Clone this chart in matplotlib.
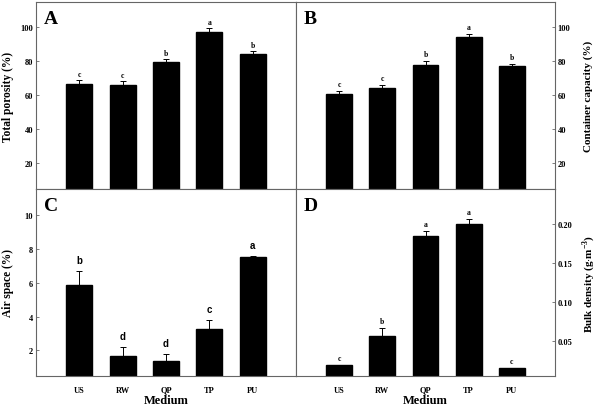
import matplotlib
matplotlib.use("Agg")
import matplotlib.pyplot as plt
from matplotlib.ticker import FormatStrFormatter

plt.rcParams['font.family'] = ['Liberation Serif', 'DejaVu Serif']
plt.rcParams['font.weight'] = 'bold'
plt.rcParams['mathtext.fontset'] = 'custom'
plt.rcParams['mathtext.rm'] = 'Liberation Serif:bold'

# data
media = ['US', 'RW', 'QP', 'TP', 'PU']

porosity = [66.3, 65.7, 79.2, 96.9, 83.9]
porosity_err = [2.3, 2.3, 1.8, 2.3, 1.8]
porosity_sig = ['c', 'c', 'b', 'a', 'b']

capacity = [60.6, 64.1, 77.8, 93.9, 76.9]
capacity_err = [1.8, 1.9, 2.4, 2.0, 1.5]
capacity_sig = ['c', 'c', 'b', 'a', 'b']

air = [5.88, 1.70, 1.37, 3.27, 7.53]
air_err = [0.80, 0.48, 0.40, 0.55, 0.03]
air_sig = ['b', 'd', 'd', 'c', 'a']

density = [0.0183, 0.0559, 0.185, 0.200, 0.0145]
density_err = [0.0, 0.0108, 0.0056, 0.0064, 0.0005]
density_sig = ['c', 'b', 'a', 'a', 'c']

W, H = 598, 406
fig = plt.figure(figsize=(W / 100, H / 100), dpi=100)

def box(x0, y0, x1, y1):
    return [x0 / W, 1 - y1 / H, (x1 - x0) / W, (y1 - y0) / H]

axA = fig.add_axes(box(36, 3, 296, 190))
axB = fig.add_axes(box(296, 3, 555, 190))
axC = fig.add_axes(box(36, 190, 296, 377))
axD = fig.add_axes(box(296, 190, 555, 377))

pos = [1, 2, 3, 4, 5]

def panel(ax, vals, errs, sig, ylim, ticks, fmt, ylabel, letter, right, bottom, sigsize, sigfam, sigoff, labx):
    ax.bar(pos, vals, width=0.6, color='black', edgecolor='black',
           yerr=[[0] * len(errs), errs], capsize=2.5,
           error_kw=dict(elinewidth=0.7, capthick=0.7, ecolor='black'))
    for x, v, e, s in zip(pos, vals, errs, sig):
        ax.text(x, v + e + sigoff, s, ha='center', va='bottom',
                fontsize=sigsize, fontweight='bold', family=sigfam)
    ax.set_xlim(0, 6)
    ax.set_ylim(*ylim)
    ax.set_yticks(ticks)
    ax.yaxis.set_major_formatter(FormatStrFormatter(fmt))
    for sp in ax.spines.values():
        sp.set_color('#666666')
        sp.set_linewidth(0.8)
    ax.tick_params(axis='y', direction='in', length=2, width=0.6, labelsize=6, pad=2,
                   color='#666666', left=not right, right=right,
                   labelleft=not right, labelright=right)
    if bottom:
        ax.set_xticks(pos)
        ax.set_xticklabels(media)
        ax.tick_params(axis='x', length=0, labelsize=6, pad=7)
        ax.set_xlabel('Medium', fontsize=9, fontweight='bold')
        ax.xaxis.set_label_coords(0.5, -0.095)
    else:
        ax.set_xticks([])
    if right:
        ax.yaxis.set_label_position('right')
        ax.set_ylabel(ylabel, fontsize=8, fontweight='bold')
    else:
        ax.set_ylabel(ylabel, fontsize=8.3, fontweight='bold')
    ax.yaxis.set_label_coords(labx, 0.5)
    ax.text(0.03, 0.955, letter, transform=ax.transAxes, ha='left', va='top',
            fontsize=14, fontweight='bold')

panel(axA, porosity, porosity_err, porosity_sig, (4.7, 114.7), [20, 40, 60, 80, 100], '%d',
      'Total porosity (%)', 'A', False, False, 5.5, 'Liberation Serif', 1.5, -0.085)
panel(axB, capacity, capacity_err, capacity_sig, (4.7, 114.7), [20, 40, 60, 80, 100], '%d',
      'Container capacity (%)', 'B', True, False, 5.5, 'Liberation Serif', 1.5, 1.108)
panel(axC, air, air_err, air_sig, (0.49, 11.53), [2, 4, 6, 8, 10], '%d',
      'Air space (%)', 'C', False, True, 7, 'Liberation Sans', 0.35, -0.085)
panel(axD, density, density_err, density_sig, (0.0046, 0.2452), [0.05, 0.10, 0.15, 0.20], '%.2f',
      'Bulk density (g$\\cdot$m$^{-3}$)', 'D', True, True, 5.5, 'Liberation Serif', 0.004, 1.098)

fig.savefig('out.png', dpi=100)
